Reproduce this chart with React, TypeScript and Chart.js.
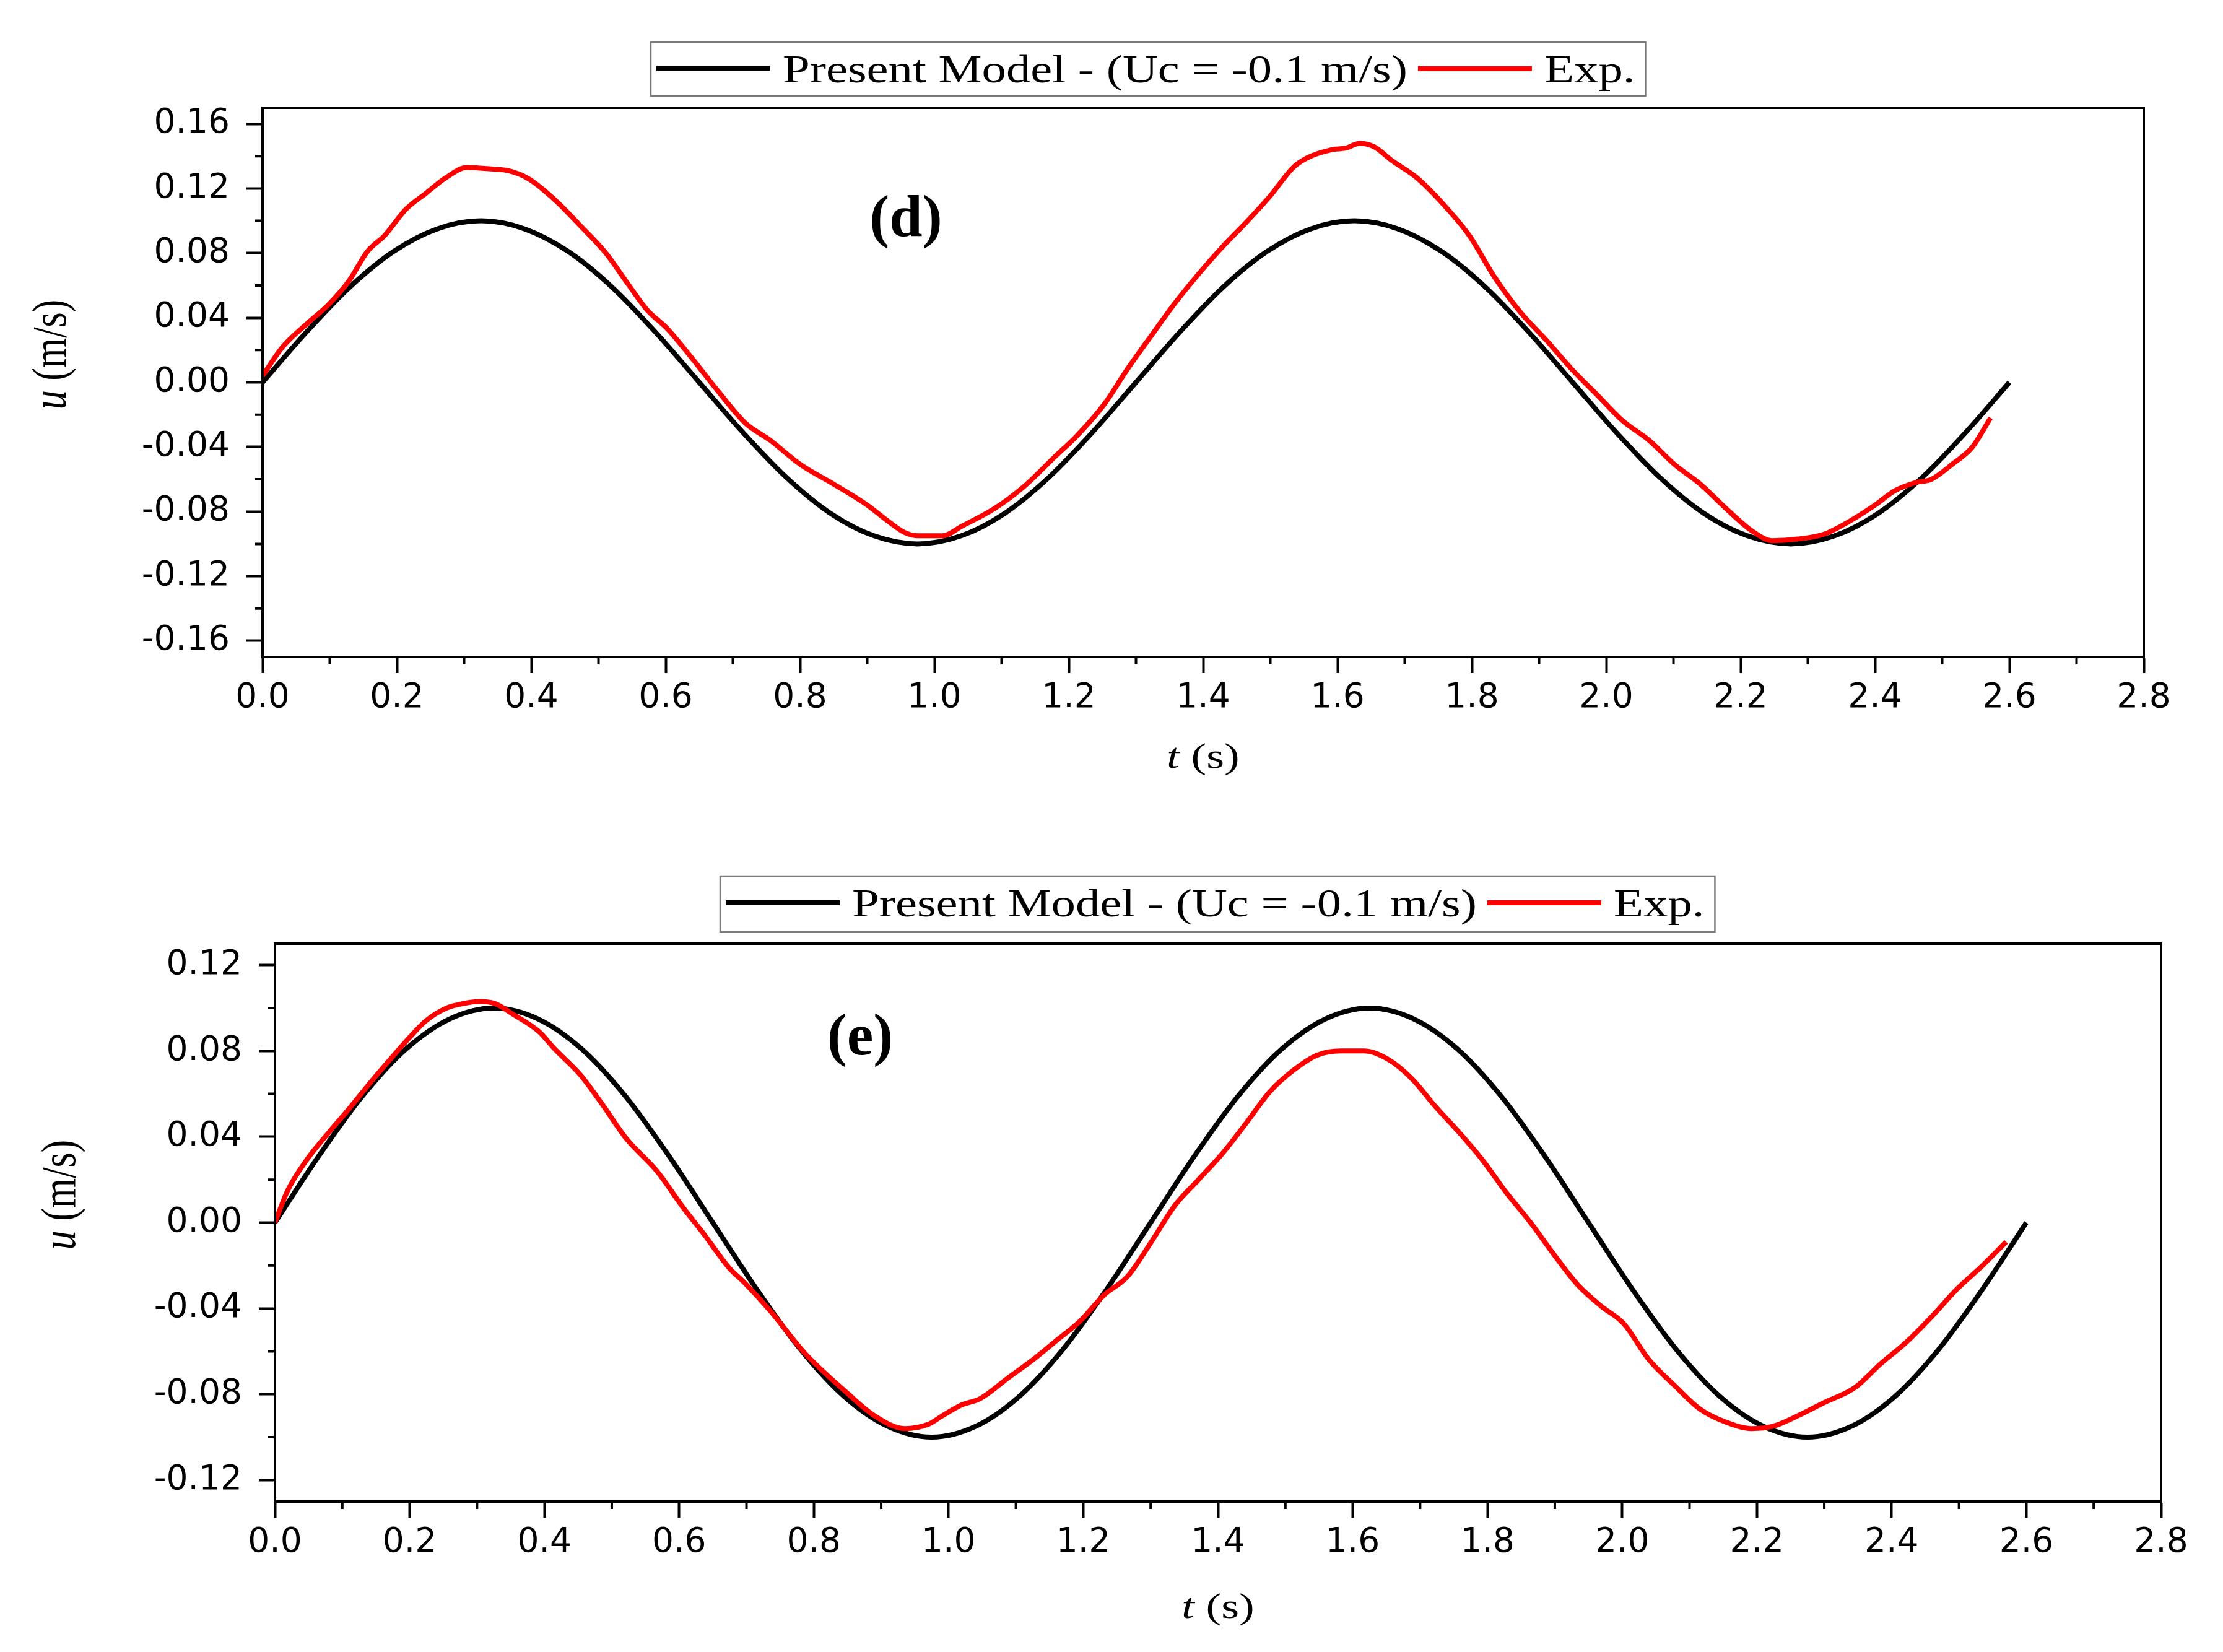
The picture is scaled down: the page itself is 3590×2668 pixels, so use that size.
import React, { useEffect, useRef } from "react";
import { Chart, registerables } from "chart.js";

Chart.register(...registerables);

// ---------------- data ----------------
const T_MODEL = [0, 0.065, 0.13, 0.195, 0.26, 0.325, 0.39, 0.455, 0.52, 0.585, 0.65, 0.715, 0.78, 0.845, 0.91, 0.975, 1.04, 1.105, 1.17, 1.235, 1.3, 1.365, 1.43, 1.495, 1.56, 1.625, 1.69, 1.755, 1.82, 1.885, 1.95, 2.015, 2.08, 2.145, 2.21, 2.275, 2.34, 2.405, 2.47, 2.535, 2.6];
const U_MODEL = [0, 0.031, 0.059, 0.081, 0.095, 0.1, 0.095, 0.081, 0.059, 0.031, 0, -0.031, -0.059, -0.081, -0.095, -0.1, -0.095, -0.081, -0.059, -0.031, 0, 0.031, 0.059, 0.081, 0.095, 0.1, 0.095, 0.081, 0.059, 0.031, 0, -0.031, -0.059, -0.081, -0.095, -0.1, -0.095, -0.081, -0.059, -0.031, 0];

const T_EXP_D = [0.0, 0.03, 0.068, 0.098, 0.129, 0.156, 0.182, 0.213, 0.243, 0.274, 0.304, 0.343, 0.366, 0.396, 0.435, 0.473, 0.511, 0.542, 0.572, 0.603, 0.641, 0.679, 0.718, 0.756, 0.801, 0.85, 0.9, 0.928, 0.956, 0.977, 1.012, 1.041, 1.09, 1.132, 1.182, 1.21, 1.252, 1.287, 1.323, 1.358, 1.393, 1.429, 1.464, 1.499, 1.534, 1.555, 1.591, 1.612, 1.633, 1.654, 1.682, 1.717, 1.758, 1.796, 1.834, 1.873, 1.911, 1.949, 1.987, 2.025, 2.064, 2.102, 2.14, 2.178, 2.217, 2.247, 2.285, 2.324, 2.362, 2.4, 2.43, 2.461, 2.484, 2.514, 2.545, 2.572];
const U_EXP_D = [0.004, 0.022, 0.037, 0.048, 0.063, 0.081, 0.091, 0.107, 0.117, 0.127, 0.133, 0.132, 0.131, 0.126, 0.113, 0.097, 0.08, 0.062, 0.045, 0.033, 0.014, -0.006, -0.025, -0.036, -0.051, -0.063, -0.076, -0.085, -0.093, -0.095, -0.095, -0.089, -0.078, -0.065, -0.045, -0.034, -0.014, 0.008, 0.029, 0.049, 0.067, 0.084, 0.099, 0.115, 0.133, 0.139, 0.144, 0.145, 0.148, 0.146, 0.137, 0.127, 0.11, 0.091, 0.065, 0.043, 0.026, 0.008, -0.008, -0.024, -0.036, -0.051, -0.063, -0.078, -0.092, -0.098, -0.097, -0.094, -0.086, -0.076, -0.067, -0.062, -0.06, -0.051, -0.04, -0.022];

const T_EXP_E = [0.0, 0.019, 0.049, 0.08, 0.11, 0.141, 0.171, 0.202, 0.224, 0.255, 0.278, 0.304, 0.327, 0.354, 0.392, 0.415, 0.453, 0.484, 0.522, 0.567, 0.606, 0.636, 0.674, 0.697, 0.735, 0.787, 0.848, 0.89, 0.935, 0.97, 0.991, 1.019, 1.047, 1.09, 1.125, 1.16, 1.195, 1.23, 1.266, 1.301, 1.336, 1.371, 1.406, 1.441, 1.477, 1.512, 1.547, 1.582, 1.617, 1.653, 1.688, 1.723, 1.758, 1.793, 1.828, 1.864, 1.899, 1.934, 1.969, 2.002, 2.04, 2.078, 2.116, 2.154, 2.192, 2.223, 2.261, 2.299, 2.345, 2.383, 2.421, 2.459, 2.497, 2.535, 2.57];
const U_EXP_E = [0.0, 0.015, 0.03, 0.042, 0.053, 0.065, 0.076, 0.087, 0.094, 0.1, 0.102, 0.103, 0.102, 0.097, 0.089, 0.081, 0.069, 0.056, 0.039, 0.024, 0.007, -0.005, -0.021, -0.028, -0.041, -0.061, -0.079, -0.09, -0.096, -0.094, -0.09, -0.085, -0.082, -0.072, -0.064, -0.055, -0.046, -0.034, -0.025, -0.009, 0.008, 0.02, 0.032, 0.046, 0.061, 0.071, 0.078, 0.08, 0.08, 0.076, 0.067, 0.054, 0.042, 0.029, 0.014, 0.0, -0.015, -0.029, -0.039, -0.047, -0.064, -0.076, -0.087, -0.093, -0.096, -0.095, -0.09, -0.084, -0.077, -0.066, -0.056, -0.044, -0.031, -0.02, -0.009];

const X_TICKS = [0, 0.2, 0.4, 0.6, 0.8, 1.0, 1.2, 1.4, 1.6, 1.8, 2.0, 2.2, 2.4, 2.6, 2.8];
const X_TICK_LABELS = ["0.0", "0.2", "0.4", "0.6", "0.8", "1.0", "1.2", "1.4", "1.6", "1.8", "2.0", "2.2", "2.4", "2.6", "2.8"];
const Y_TICKS_D = [-0.16, -0.12, -0.08, -0.04, 0, 0.04, 0.08, 0.12, 0.16];
const Y_TICK_LABELS_D = ["-0.16", "-0.12", "-0.08", "-0.04", "0.00", "0.04", "0.08", "0.12", "0.16"];
const Y_TICKS_E = [-0.12, -0.08, -0.04, 0, 0.04, 0.08, 0.12];
const Y_TICK_LABELS_E = ["-0.12", "-0.08", "-0.04", "0.00", "0.04", "0.08", "0.12"];

const SERIES_LABELS = ["Present Model - (Uc = -0.1 m/s)", "Exp."];
const SERIES_COLORS = ["#000000", "#ff0000"];
const PANEL_LABELS = ["(d)", "(e)"];
const X_TITLE = ["t", " (s)"];
const Y_TITLE = ["u", " (m/s)"];

// ---------------- layout ----------------
const W = 3590;
const PANELS = [
  {
    top: 0, height: 1300,
    area: { left: 424, top: 174, right: 3462, bottom: 1061 },
    yMin: -0.17, yMax: 0.17,
    yTicks: Y_TICKS_D, yLabels: Y_TICK_LABELS_D,
    exp: [T_EXP_D, U_EXP_D],
    legend: { left: 1051, top: 68, h: 87 },
    label: { x: 1463, y: 356 },
    yTitle: { x: 86, dy: -45 },
    xTitleY: 1225,
  },
  {
    top: 1300, height: 1368,
    area: { left: 444, top: 224, right: 3490, bottom: 1125 },
    yMin: -0.13, yMax: 0.13,
    yTicks: Y_TICKS_E, yLabels: Y_TICK_LABELS_E,
    exp: [T_EXP_E, U_EXP_E],
    legend: { left: 1163, top: 115, h: 90 },
    label: { x: 1389, y: 378 },
    yTitle: { x: 101, dy: -45 },
    xTitleY: 1298,
  },
];
const X_AXIS_H = 120;
const SERIF = '"Liberation Serif", "Times New Roman", serif';

function drawMixed(ctx: CanvasRenderingContext2D, parts: string[], size: number) {
  ctx.font = `italic ${size}px ${SERIF}`;
  const w0 = ctx.measureText(parts[0]).width;
  ctx.font = `${size}px ${SERIF}`;
  const w1 = ctx.measureText(parts[1]).width;
  const start = -(w0 + w1) / 2;
  ctx.textAlign = "left";
  ctx.textBaseline = "middle";
  ctx.font = `italic ${size}px ${SERIF}`;
  ctx.fillText(parts[0], start, 0);
  ctx.font = `${size}px ${SERIF}`;
  ctx.fillText(parts[1], start + w0, 0);
}

function makeDecor(p: any, idx: number) {
  return {
    id: "decor" + idx,
    afterDraw(chart: any) {
      const ctx: CanvasRenderingContext2D = chart.ctx;
      const a = chart.chartArea;
      const xs = chart.scales.x;
      const ys = chart.scales.y;
      ctx.save();
      ctx.fillStyle = "#000";
      ctx.strokeStyle = "#000";
      // minor ticks
      ctx.lineWidth = 4;
      ctx.beginPath();
      for (let i = 0; i < X_TICKS.length - 1; i++) {
        const px = xs.getPixelForValue((X_TICKS[i] + X_TICKS[i + 1]) / 2);
        ctx.moveTo(px, a.bottom);
        ctx.lineTo(px, a.bottom + 12);
      }
      const yt = p.yTicks;
      const yMinor: number[] = [];
      for (let i = 0; i < yt.length - 1; i++) yMinor.push((yt[i] + yt[i + 1]) / 2);
      yMinor.push(yt[0] - (yt[1] - yt[0]) / 2);
      yMinor.push(yt[yt.length - 1] + (yt[1] - yt[0]) / 2);
      for (const v of yMinor) {
        if (v < p.yMin || v > p.yMax) continue;
        const py = ys.getPixelForValue(v);
        ctx.moveTo(a.left - 12, py);
        ctx.lineTo(a.left, py);
      }
      ctx.stroke();
      // frame
      ctx.lineWidth = 4;
      ctx.strokeRect(a.left, a.top, a.right - a.left, a.bottom - a.top);

      // x title
      ctx.save();
      ctx.translate((a.left + a.right) / 2, p.xTitleY);
      ctx.scale(1.3, 1);
      drawMixed(ctx, X_TITLE, 57);
      ctx.restore();
      // y title
      ctx.save();
      ctx.translate(p.yTitle.x, (a.top + a.bottom) / 2 + p.yTitle.dy);
      ctx.rotate(-Math.PI / 2);
      ctx.scale(1, 1.25);
      drawMixed(ctx, Y_TITLE, 62);
      ctx.restore();

      // panel label
      ctx.font = `bold 96px ${SERIF}`;
      ctx.textAlign = "center";
      ctx.textBaseline = "middle";
      ctx.fillText(PANEL_LABELS[idx], p.label.x, p.label.y);

      // legend
      const lg = p.legend;
      const sx = 1.25;
      ctx.font = `63px ${SERIF}`;
      ctx.textAlign = "left";
      ctx.textBaseline = "alphabetic";
      let x = lg.left + 9;
      const lineY = lg.top + 43;
      const baseY = lg.top + 65;
      chart.data.datasets.forEach((ds: any) => {
        ctx.strokeStyle = ds.borderColor;
        ctx.lineWidth = 8;
        ctx.lineCap = "butt";
        ctx.beginPath();
        ctx.moveTo(x, lineY);
        ctx.lineTo(x + 184, lineY);
        ctx.stroke();
        x += 184 + 20;
        const tw = ctx.measureText(ds.label).width * sx;
        ctx.save();
        ctx.translate(x, baseY);
        ctx.scale(sx, 1);
        ctx.fillStyle = "#000";
        ctx.fillText(ds.label, 0, 0);
        ctx.restore();
        x += tw + 17;
      });
      ctx.strokeStyle = "#7a7a7a";
      ctx.lineWidth = 2.5;
      ctx.strokeRect(lg.left, lg.top, x - lg.left, lg.h);
      ctx.restore();
    },
  };
}

function makeConfig(p: any, idx: number): any {
  const tickFont = { family: '"DejaVu Sans", sans-serif', size: 55 };
  const grid = { display: true, drawOnChartArea: false, drawTicks: true, tickLength: 26, tickWidth: 4, tickColor: "#000" };
  const border = { display: true, color: "#000", width: 4 };
  return {
    type: "line",
    data: {
      datasets: [
        {
          label: SERIES_LABELS[0],
          data: T_MODEL.map((t, i) => ({ x: t, y: U_MODEL[i] })),
          borderColor: SERIES_COLORS[0],
          borderWidth: 8,
          pointRadius: 0,
          cubicInterpolationMode: "monotone",
          order: 1,
        },
        {
          label: SERIES_LABELS[1],
          data: p.exp[0].map((t: number, i: number) => ({ x: t, y: p.exp[1][i] })),
          borderColor: SERIES_COLORS[1],
          borderWidth: 8,
          pointRadius: 0,
          cubicInterpolationMode: "monotone",
          order: 0,
        },
      ],
    },
    options: {
      animation: false,
      responsive: false,
      devicePixelRatio: 1,
      layout: {
        padding: {
          left: 0,
          top: p.area.top,
          right: W - p.area.right,
          bottom: p.height - p.area.bottom - X_AXIS_H,
        },
      },
      plugins: { legend: { display: false }, tooltip: { enabled: false }, title: { display: false } },
      scales: {
        x: {
          type: "linear",
          min: 0,
          max: 2.8,
          afterBuildTicks: (s: any) => { s.ticks = X_TICKS.map((v) => ({ value: v })); },
          afterFit: (s: any) => { s.height = X_AXIS_H; },
          ticks: {
            autoSkip: false,
            maxRotation: 0,
            padding: 8,
            color: "#000",
            font: tickFont,
            callback: (_v: any, i: number) => X_TICK_LABELS[i],
          },
          grid,
          border,
        },
        y: {
          type: "linear",
          min: p.yMin,
          max: p.yMax,
          afterBuildTicks: (s: any) => { s.ticks = p.yTicks.map((v: number) => ({ value: v })); },
          afterFit: (s: any) => { s.width = p.area.left; },
          ticks: {
            autoSkip: false,
            padding: 27,
            color: "#000",
            font: tickFont,
            callback: (_v: any, i: number) => p.yLabels[i],
          },
          grid,
          border,
        },
      },
    },
    plugins: [makeDecor(p, idx)],
  };
}

export default function App() {
  const r0 = useRef<HTMLCanvasElement>(null);
  const r1 = useRef<HTMLCanvasElement>(null);
  useEffect(() => {
    const refs = [r0, r1];
    const charts = PANELS.map((p, i) => new Chart(refs[i].current as HTMLCanvasElement, makeConfig(p, i)));
    return () => charts.forEach((c) => c.destroy());
  }, []);
  return (
    <div style={{ position: "absolute", left: 0, top: 0, width: W, height: 2668, background: "#ffffff", overflow: "hidden" }}>
      {PANELS.map((p, i) => (
        <canvas
          key={i}
          ref={i === 0 ? r0 : r1}
          width={W}
          height={p.height}
          style={{ position: "absolute", left: 0, top: p.top, width: W, height: p.height }}
        />
      ))}
    </div>
  );
}
